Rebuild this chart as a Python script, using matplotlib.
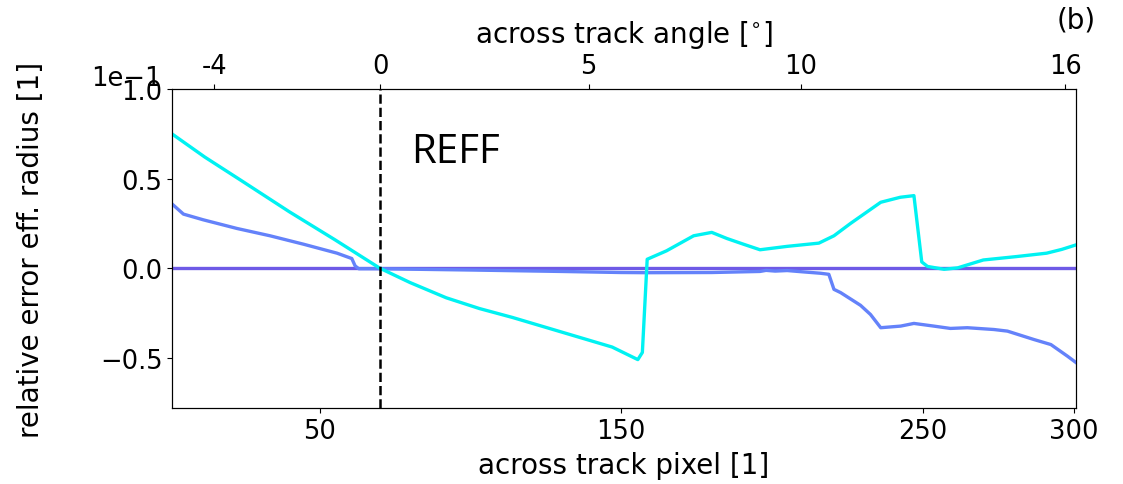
import matplotlib
matplotlib.use("Agg")
import matplotlib.pyplot as plt
from matplotlib.ticker import ScalarFormatter

# relative error of effective radius along the across-track pixel index
cyan_pixel = [1.5, 12, 24, 40, 55, 70, 80, 92, 103, 114, 125, 136, 147, 155.5, 157,
              158.6, 165, 174, 180, 185, 190.5, 196, 205, 215.5, 220.5, 226, 236,
              242.5, 247, 249.6, 251.5, 257, 261.5, 270, 281, 291, 296, 300.5]
cyan_error = [0.0745, 0.062, 0.049, 0.0315, 0.016, 0.0, -0.008, -0.0165, -0.0225, -0.0275,
              -0.033, -0.0385, -0.044, -0.051, -0.047, 0.005, 0.0097, 0.0181, 0.020,
              0.0166, 0.0134, 0.0103, 0.0122, 0.014, 0.0181, 0.025, 0.0368, 0.0396,
              0.0405, 0.0035, 0.001, -0.0006, 0.0002, 0.0046, 0.0065, 0.0084, 0.0105, 0.0129]

blue_pixel = [1.5, 4.9, 11.5, 22.6, 33.6, 44.7, 55.8, 60.7, 61.8, 63, 70, 100, 130, 150,
              158.6, 180, 196, 198, 201, 205, 210, 216, 218.8, 220.5, 222.7, 229.3,
              232.6, 236, 242.6, 247, 253.6, 259.1, 264.7, 273.5, 278, 286.8, 292.4,
              297.9, 300.6]
blue_error = [0.0353, 0.0302, 0.027, 0.0222, 0.0181, 0.0134, 0.0084, 0.0054, 0.0013,
              -0.0003, -0.0003, -0.001, -0.0018, -0.0024, -0.0025, -0.0024, -0.0018,
              -0.0012, -0.0016, -0.0013, -0.002, -0.0028, -0.0034, -0.0118, -0.0136,
              -0.0207, -0.0258, -0.0332, -0.0323, -0.0308, -0.0323, -0.0336, -0.0332,
              -0.0342, -0.0351, -0.0398, -0.0426, -0.0491, -0.0525]

ref_pixel = [1.2, 300.7]
ref_error = [0.0, 0.0]

nadir_pixel = 70
pixel_ticks = [50, 150, 250, 300]
angle_labels = ["-4", "0", "5", "10", "16"]
angle_tick_pixels = [15.1, 70.1, 139.2, 209.5, 297.1]

tick_fs = 18.5
label_fs = 20
fig = plt.figure(figsize=(11.23, 4.85), dpi=100)
ax = fig.add_axes([0.1534, 0.1567, 0.8047, 0.6577])

ax.plot(ref_pixel, ref_error, color="#6e5ae6", lw=2.4, zorder=2)
ax.plot(blue_pixel, blue_error, color="#6482fa", lw=2.4, zorder=3)
ax.plot(cyan_pixel, cyan_error, color="#00f2f2", lw=2.4, zorder=4)
ax.axvline(nadir_pixel, color="black", ls="--", lw=1.8, zorder=5)

ax.set_xlim(1.2, 300.7)
ax.set_ylim(-0.078, 0.1)
ax.set_xticks(pixel_ticks)
ax.set_yticks([-0.05, 0.0, 0.05, 0.1])
fmt = ScalarFormatter(useMathText=False)
fmt.set_powerlimits((0, 0))
ax.yaxis.set_major_formatter(fmt)
ax.tick_params(labelsize=tick_fs)
off = ax.yaxis.get_offset_text()
off.set_fontsize(tick_fs)
off.set_horizontalalignment("right")
off.set_x(-0.012)
ax.set_xlabel("across track pixel [1]", fontsize=label_fs, labelpad=5)
ax.set_ylabel("relative error eff. radius [1]", fontsize=label_fs)
ax.yaxis.set_label_coords(-0.141, 0.5)

ax.text(0.264, 0.77, "REFF", transform=ax.transAxes, fontsize=29,
        family="Open Sans", ha="left", va="baseline")

top = ax.twiny()
top.set_xlim(ax.get_xlim())
top.set_xticks(angle_tick_pixels)
top.set_xticklabels(angle_labels)
top.tick_params(labelsize=tick_fs)
top.set_xlabel("across track angle [$^{\\circ}$]", fontsize=label_fs, labelpad=8)

fig.text(1076 / 1123, 1 - 20 / 485, "(b)", fontsize=label_fs, ha="center", va="center")

fig.savefig("out.png", dpi=100)
